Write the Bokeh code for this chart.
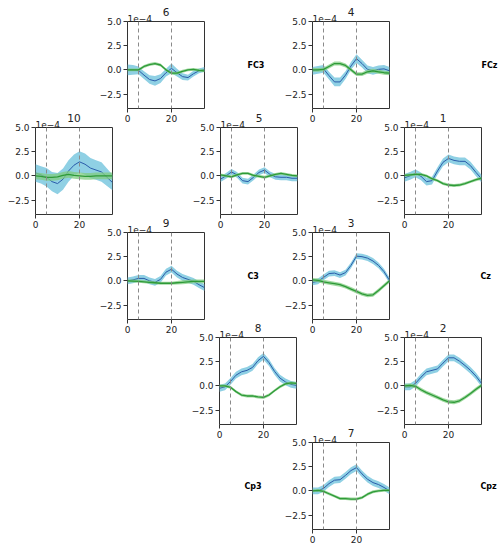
from bokeh.plotting import figure
from bokeh.models import Row, Span, Title, LinearAxis, FixedTicker
from bokeh.embed import file_html
from bokeh.resources import INLINE

# ---------------- data (values in units of 1e-4) ----------------
times = [0, 2.5, 5, 7.5, 10, 12.5, 15, 17.5, 20, 22.5, 25, 27.5, 30, 32.5, 35]
x_ticks = [0, 20]
y_ticks = [-2.5, 0.0, 2.5, 5.0]
y_tick_labels = ["\u22122.5", "0.0", "2.5", "5.0"]
event_markers = [5, 20]
scale_text = "1e\u22124"

blue_6 = [0.0, 0.0, -0.05, -0.55, -1.0, -1.15, -0.9, -0.3, 0.15, -0.3, -0.7, -0.8, -0.4, -0.1, 0.05]
blue_6_err = [0.55, 0.5, 0.4, 0.4, 0.45, 0.5, 0.45, 0.4, 0.5, 0.4, 0.35, 0.3, 0.3, 0.25, 0.25]
green_6 = [0.0, 0.0, 0.0, 0.35, 0.55, 0.65, 0.5, 0.0, -0.35, -0.35, -0.15, 0.0, 0.05, -0.05, -0.1]
green_6_err = [0.15] * 15

blue_4 = [-0.1, 0.0, 0.1, -0.6, -1.25, -1.25, -0.55, 0.4, 1.15, 0.65, 0.05, -0.1, 0.05, 0.1, -0.1]
blue_4_err = [0.4, 0.4, 0.4, 0.4, 0.45, 0.45, 0.4, 0.4, 0.45, 0.4, 0.4, 0.4, 0.4, 0.4, 0.4]
green_4 = [0.0, 0.0, 0.05, 0.35, 0.65, 0.65, 0.45, 0.0, -0.45, -0.45, -0.2, -0.1, -0.2, -0.3, -0.35]
green_4_err = [0.2] * 15

blue_10 = [0.3, 0.1, -0.15, -0.6, -0.8, -0.35, 0.5, 1.1, 1.45, 1.2, 0.8, 0.6, 0.4, -0.15, -0.7]
blue_10_err = [0.9, 0.9, 0.95, 1.0, 1.1, 1.1, 1.1, 1.1, 1.1, 1.1, 1.05, 1.0, 1.0, 0.9, 0.8]
green_10 = [0.0, -0.05, -0.15, -0.15, -0.1, 0.05, 0.15, 0.05, 0.0, -0.05, -0.05, 0.0, 0.0, 0.0, 0.0]
green_10_err = [0.35] * 15

blue_5 = [-0.35, 0.0, 0.4, 0.1, -0.5, -0.6, -0.15, 0.35, 0.6, 0.15, -0.1, -0.15, -0.15, -0.25, -0.25]
blue_5_err = [0.3] * 15
green_5 = [0.1, 0.0, -0.1, 0.1, 0.25, 0.25, 0.05, -0.05, -0.15, 0.0, 0.15, 0.25, 0.15, 0.05, 0.0]
green_5_err = [0.15] * 15

blue_1 = [-0.2, 0.0, 0.25, -0.05, -0.6, -0.5, 0.5, 1.4, 1.8, 1.6, 1.5, 1.5, 1.05, 0.35, -0.3]
blue_1_err = [0.4] * 15
green_1 = [0.05, 0.1, 0.15, 0.15, 0.0, -0.3, -0.5, -0.8, -0.95, -1.0, -0.95, -0.8, -0.6, -0.4, -0.25]
green_1_err = [0.15] * 15

blue_9 = [0.0, 0.1, 0.25, 0.25, 0.0, -0.15, 0.15, 0.9, 1.2, 0.7, 0.35, 0.15, -0.05, -0.4, -0.7]
blue_9_err = [0.35] * 15
green_9 = [0.0, -0.02, -0.05, -0.1, -0.15, -0.2, -0.25, -0.25, -0.25, -0.2, -0.15, -0.1, -0.05, -0.05, -0.05]
green_9_err = [0.15, 0.15, 0.15, 0.15, 0.15, 0.15, 0.15, 0.15, 0.15, 0.18, 0.2, 0.2, 0.2, 0.2, 0.2]

blue_3 = [-0.15, -0.05, 0.35, 0.75, 0.8, 0.6, 0.85, 1.6, 2.55, 2.5, 2.35, 2.05, 1.6, 0.95, 0.05]
blue_3_err = [0.3] * 15
green_3 = [0.1, 0.05, -0.1, -0.2, -0.3, -0.4, -0.6, -0.85, -1.1, -1.35, -1.5, -1.45, -1.0, -0.5, 0.0]
green_3_err = [0.2] * 15

blue_8 = [-0.25, -0.1, 0.45, 1.1, 1.45, 1.6, 1.9, 2.6, 3.05, 2.4, 1.5, 0.8, 0.4, 0.15, 0.05]
blue_8_err = [0.35] * 15
green_8 = [0.0, 0.0, -0.15, -0.6, -0.95, -1.05, -1.05, -1.15, -1.2, -0.95, -0.5, -0.1, 0.2, 0.3, 0.25]
green_8_err = [0.15] * 15

blue_2 = [-0.1, -0.1, 0.25, 0.9, 1.45, 1.6, 1.75, 2.35, 2.9, 2.9, 2.55, 2.1, 1.6, 1.0, 0.25]
blue_2_err = [0.35] * 15
green_2 = [0.0, 0.05, -0.05, -0.4, -0.7, -0.95, -1.2, -1.45, -1.65, -1.7, -1.55, -1.2, -0.8, -0.35, 0.05]
green_2_err = [0.2] * 15

blue_7 = [0.0, 0.0, 0.25, 0.75, 1.1, 1.15, 1.6, 2.1, 2.4, 1.75, 1.2, 0.85, 0.65, 0.35, 0.0]
blue_7_err = [0.35] * 15
green_7 = [0.0, 0.05, -0.05, -0.3, -0.55, -0.8, -0.8, -0.85, -0.85, -0.7, -0.35, -0.1, 0.0, 0.05, 0.05]
green_7_err = [0.15] * 15

panels = {
    6: (blue_6, blue_6_err, green_6, green_6_err),
    4: (blue_4, blue_4_err, green_4, green_4_err),
    10: (blue_10, blue_10_err, green_10, green_10_err),
    5: (blue_5, blue_5_err, green_5, green_5_err),
    1: (blue_1, blue_1_err, green_1, green_1_err),
    9: (blue_9, blue_9_err, green_9, green_9_err),
    3: (blue_3, blue_3_err, green_3, green_3_err),
    8: (blue_8, blue_8_err, green_8, green_8_err),
    2: (blue_2, blue_2_err, green_2, green_2_err),
    7: (blue_7, blue_7_err, green_7, green_7_err),
}

# channel names shown beside panels: panel -> [(side, name, standoff px)]
channel_labels = {
    6: [("right", "FC3", 43)],
    4: [("right", "FCz", 92)],
    9: [("right", "C3", 43)],
    3: [("right", "Cz", 91)],
    7: [("left", "Cp3", 20), ("right", "Cpz", 91)],
}

# ---------------- layout / style ----------------
frame_pos = {6: (127, 21), 4: (312, 21), 10: (35, 127), 5: (220, 127), 1: (404, 127),
             9: (127, 232), 3: (312, 232), 8: (219, 337), 2: (404, 337), 7: (312, 442)}
FW, FH = 77, 87
ML, ML_WIDE, MR, MT, MB = 34, 90, 4, 30, 18
FONT = "DejaVu Sans"
BLUE_LINE, BLUE_BAND = "#2a5caa", "#8fd0e4"
GREEN_LINE, GREEN_BAND = "#2e9a38", "#80cc80"
SPINE = "#333333"
TEXT = "#222222"


def style_axis(ax):
    ax.axis_line_color = None
    ax.major_tick_in = 0
    ax.major_tick_out = 4
    ax.major_tick_line_color = SPINE
    ax.minor_tick_line_color = None
    ax.major_label_text_font = FONT
    ax.major_label_text_font_size = "9px"
    ax.major_label_text_color = TEXT
    ax.major_label_standoff = 2


def style_name_axis(ax, name, standoff):
    ax.axis_label = name
    ax.axis_label_orientation = "horizontal"
    ax.axis_label_standoff = standoff
    ax.axis_label_text_font = FONT
    ax.axis_label_text_font_style = "bold"
    ax.axis_label_text_font_size = "8px"
    ax.axis_label_text_color = "black"


def make_panel(pid, b, be, g, ge):
    labels = channel_labels.get(pid, [])
    ml = ML_WIDE if any(side == "left" for side, _, _ in labels) else ML
    p = figure(frame_width=FW, frame_height=FH, x_range=(0, 35), y_range=(-4, 5),
               min_border_left=ml, min_border_right=MR, min_border_top=MT, min_border_bottom=MB,
               output_backend="svg", toolbar_location=None,
               background_fill_color="white", border_fill_alpha=0,
               outline_line_color=SPINE, outline_line_width=1)
    p.grid.visible = False
    style_axis(p.xaxis[0])
    style_axis(p.yaxis[0])
    p.xaxis.ticker = x_ticks
    p.yaxis.ticker = y_ticks
    p.yaxis.major_label_overrides = dict(zip(y_ticks, y_tick_labels))

    p.varea(x=times, y1=[m - e for m, e in zip(b, be)], y2=[m + e for m, e in zip(b, be)],
            fill_color=BLUE_BAND, fill_alpha=1.0)
    p.line(x=times, y=b, line_color=BLUE_LINE, line_width=1)
    p.varea(x=times, y1=[m - e for m, e in zip(g, ge)], y2=[m + e for m, e in zip(g, ge)],
            fill_color=GREEN_BAND, fill_alpha=0.75)
    p.line(x=times, y=g, line_color=GREEN_LINE, line_width=1.3)

    for loc in event_markers:
        p.add_layout(Span(location=loc, dimension="height", line_color="#8a8a8a",
                          line_dash="4 3", line_width=1))

    # panel number (outer title) and scale factor (inner title)
    p.title.text = str(pid)
    p.title.align = "center"
    p.title.text_font = FONT
    p.title.text_font_size = "10.5px"
    p.title.text_font_style = "normal"
    p.title.text_color = TEXT
    p.title.standoff = -6
    p.add_layout(Title(text=scale_text, align="left", text_font=FONT, text_font_size="9px",
                       text_font_style="normal", text_color=TEXT, standoff=0), "above")

    for side, name, standoff in labels:
        if side == "left":
            style_name_axis(p.yaxis[0], name, standoff)
        else:
            ax = LinearAxis(ticker=FixedTicker(ticks=[]), axis_line_color=None,
                            major_tick_out=0, major_tick_in=0, minor_tick_line_color=None,
                            major_label_standoff=0)
            style_name_axis(ax, name, standoff)
            p.add_layout(ax, "right")

    left, top = frame_pos[pid]
    p.styles = {"position": "absolute", "left": f"{left - ml}px", "top": f"{top - MT}px"}
    return p


children = [make_panel(pid, *vals) for pid, vals in panels.items()]

root = Row(children=children, width=492, height=537, sizing_mode="fixed")

open("out.html", "w").write(file_html(root, INLINE))
